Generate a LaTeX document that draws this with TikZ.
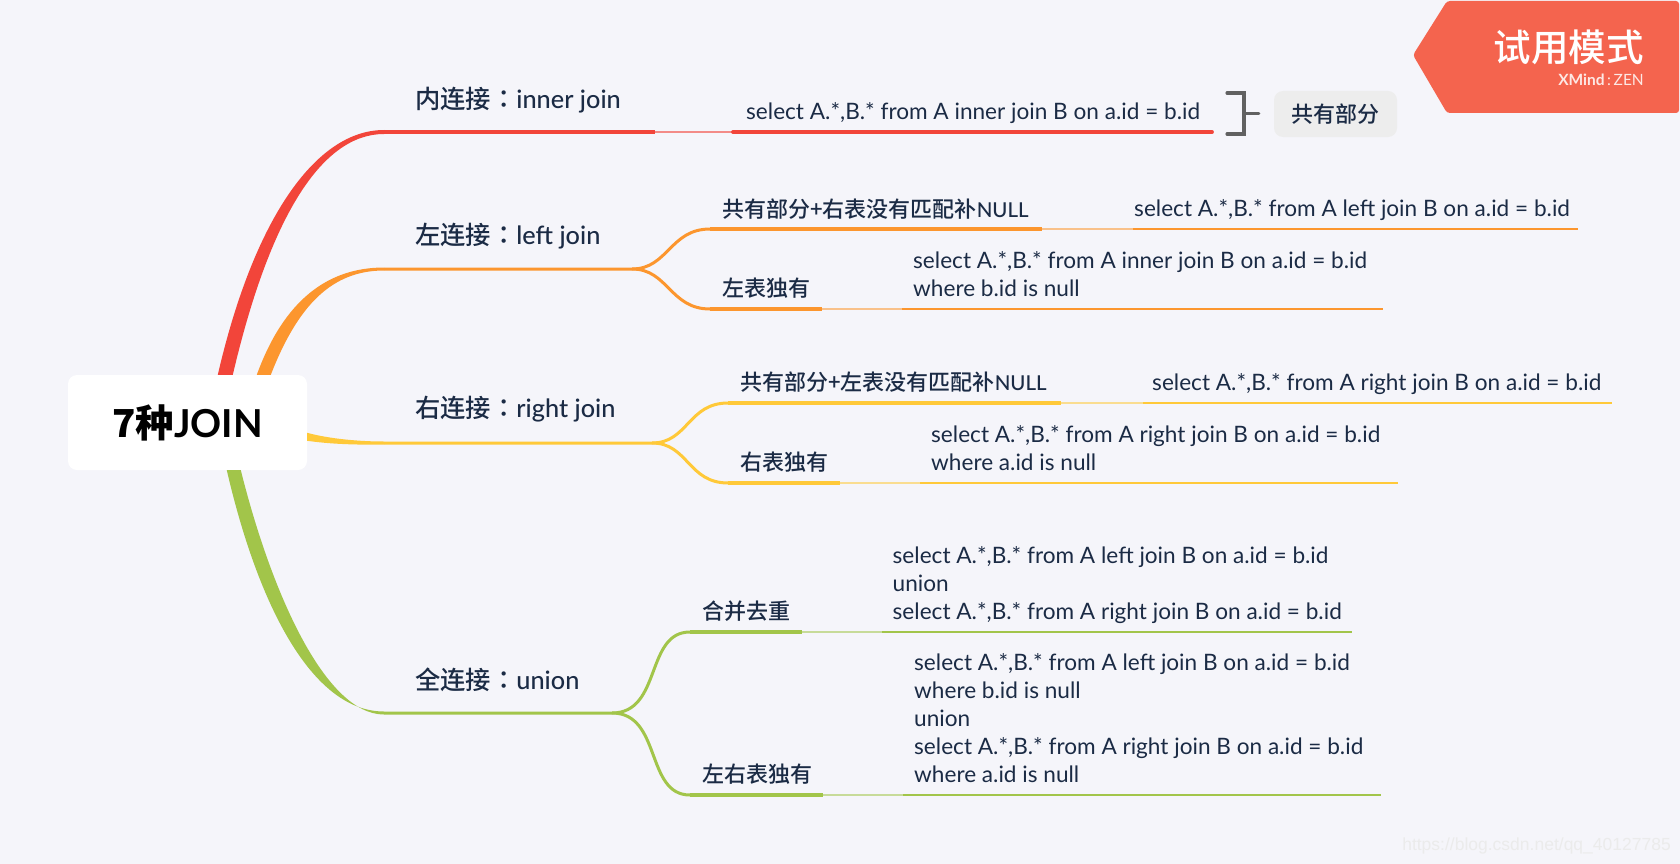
\documentclass[tikz,border=0pt]{standalone}
\usepackage{fontspec}
\usetikzlibrary{calc}
\setmainfont{Lato}
\newfontfamily\latmed{Lato Medium}
\newfontfamily\cjkfont{Noto Sans CJK SC Medium}
\newfontfamily\cjkcol{Noto Sans CJK TC Medium}
\newfontfamily\wmfont{Liberation Sans}
\newcommand{\zh}[1]{{\cjkfont #1}}
\newcommand{\zhcol}{{\cjkcol ：}}
\definecolor{bgc}{HTML}{F5F5FA}
\definecolor{ink}{HTML}{1B2B45}
\definecolor{cred}{HTML}{F2453A}
\definecolor{corg}{HTML}{FC962E}
\definecolor{cyel}{HTML}{FFC939}
\definecolor{cgrn}{HTML}{A2C54A}
\definecolor{tagc}{HTML}{F4644E}
\newcommand{\branch}[6]{%
  \coordinate (#1a) at (#2,#6);\coordinate (#1b) at (#3,#6);
  \coordinate (#1c) at (#4,#6);\coordinate (#1d) at (#5,#6);}
\newcommand{\strokes}[2]{%
  \draw[thickseg,#2] (#1a) -- (#1b);
  \draw[lightseg,#2!55!bgc] (#1b) -- (#1c);
  \draw[thinseg,#2] (#1c) -- (#1d);}
\tikzset{
  x=1pt,y=-1pt,
  thickseg/.style={line width=3.8pt},
  lightseg/.style={line width=2pt},
  thinseg/.style={line width=2.6pt},
  forkline/.style={line width=3pt},
  maintopic/.style={anchor=west,inner sep=0pt,text=ink,font=\fontsize{25.3}{28}\selectfont\latmed},
  subtopic/.style={anchor=west,inner sep=0pt,text=ink,font=\fontsize{22}{28}\selectfont\latmed},
  sql/.style={anchor=west,inner sep=0pt,text=ink,align=left,font=\fontsize{22.6}{28}\selectfont},
}
\begin{document}
\begin{tikzpicture}
\useasboundingbox (0,0) rectangle (1680,864);
\fill[bgc] (0,0) rectangle (1680,864);

% root
\node[fill=white,rounded corners=9pt,minimum width=239pt,minimum height=95pt,inner sep=0pt,
  font=\fontsize{38.5}{42}\selectfont\bfseries] (root) at (187.5,422.5)
  {{\cjkfont 7种}JOIN};

% tapered main branches, starting on the root's edge
\coordinate (rn) at (root.north west);
\coordinate (rs) at (root.south west);
\coordinate (re) at (root.north east);
\branch{m1}{384}{655}{733}{1212}{132}
\branch{m2}{384}{632}{632}{632}{269}
\branch{m3}{384}{652}{652}{652}{443}
\branch{m4}{384}{612}{612}{612}{713}
\fill[cred] ($(rn)+(150,0)$) .. controls (255,214) and (318,130) .. ($(m1a)+(0,-2)$)
  -- ($(m1a)+(0,2)$) .. controls (322,134) and (270,216) .. ($(rn)+(165,0)$) -- cycle;
\fill[corg] ($(rn)+(189,0)$) .. controls (284,300) and (328,267.5) .. ($(m2a)+(0,-1.5)$)
  -- ($(m2a)+(0,1.5)$) .. controls (332,270.5) and (298,305) .. ($(rn)+(203,0)$) -- cycle;
\fill[cyel] ($(re)+(0,58)$) .. controls (330,439) and (360,441.5) .. ($(m3a)+(0,-1.5)$)
  -- ($(m3a)+(0,1.5)$) .. controls (355,445) and (330,444) .. ($(re)+(0,66)$) -- cycle;
\fill[cgrn] ($(rs)+(159,0)$) .. controls (258,605) and (312,711.5) .. ($(m4a)+(0,-1.5)$)
  -- ($(m4a)+(0,1.5)$) .. controls (326,714.5) and (272,595) .. ($(rs)+(173,0)$) -- cycle;

% inner join branch
\draw[thickseg,cred] (m1a) -- (m1b);
\draw[lightseg,cred!60!bgc] (m1b) -- (m1c);
\draw[thickseg,cred,line cap=round] (m1c) -- (m1d);

% left join
\branch{a}{710}{1042}{1133}{1578}{229}
\branch{b}{710}{822}{902}{1383}{309}
\draw[forkline,corg] (m2a) -- (m2b) .. controls (668,269) and (670,229) .. (aa);
\draw[forkline,corg] (m2b) .. controls (668,269) and (670,309) .. (ba);
\strokes{a}{corg}\strokes{b}{corg}

% right join
\branch{c}{728}{1061}{1143}{1612}{403}
\branch{d}{728}{840}{920}{1398}{483}
\draw[forkline,cyel] (m3a) -- (m3b) .. controls (688,443) and (688,403) .. (ca);
\draw[forkline,cyel] (m3b) .. controls (688,443) and (688,483) .. (da);
\strokes{c}{cyel}\strokes{d}{cyel}

% union
\branch{e}{690}{802}{882}{1352}{632}
\branch{f}{690}{823}{903}{1381}{795}
\draw[forkline,cgrn] (m4a) -- (m4b) .. controls (662,713) and (645,632) .. (ea);
\draw[forkline,cgrn] (m4b) .. controls (662,713) and (645,795) .. (fa);
\strokes{e}{cgrn}\strokes{f}{cgrn}

% main topics
\node[maintopic] (t1) at (415,100) {\zh{内连接}\zhcol{}inner join};
\node[maintopic] (t2) at (415,236) {\zh{左连接}\zhcol{}left join};
\node[maintopic] (t3) at (415,409) {\zh{右连接}\zhcol{}right join};
\node[maintopic] (t4) at (415,680) {\zh{全连接}\zhcol{}union};

% sub topics
\node[subtopic] (s1) at (722,209) {\zh{共有部分+右表没有匹配补}{\fontsize{20.5}{28}\selectfont NULL}};
\node[subtopic] (s2) at (722,288) {\zh{左表独有}};
\node[subtopic] (s3) at (740,382) {\zh{共有部分+左表没有匹配补}{\fontsize{20.5}{28}\selectfont NULL}};
\node[subtopic] (s4) at (740,462) {\zh{右表独有}};
\node[subtopic] (s5) at (702,611) {\zh{合并去重}};
\node[subtopic] (s6) at (702,774) {\zh{左右表独有}};

% sql
\node[sql] (q1) at (746,113) {select A.*,B.* from A inner join B on a.id = b.id};
\node[sql] (q2) at (1134,210) {select A.*,B.* from A left join B on a.id = b.id};
\node[sql] (q3) at (913,274) {select A.*,B.* from A inner join B on a.id = b.id\\where b.id is null};
\node[sql] (q4) at (1152,384) {select A.*,B.* from A right join B on a.id = b.id};
\node[sql] (q5) at (931,448) {select A.*,B.* from A right join B on a.id = b.id\\where a.id is null};
\node[sql] (q6) at (892.5,585) {select A.*,B.* from A left join B on a.id = b.id\\union\\select A.*,B.* from A right join B on a.id = b.id};
\node[sql] (q7) at (914,718) {select A.*,B.* from A left join B on a.id = b.id\\where b.id is null\\union\\select A.*,B.* from A right join B on a.id = b.id\\where a.id is null};

% summary bracket and label
\node[fill=black!7,rounded corners=9pt,minimum width=123pt,minimum height=46pt,inner sep=0pt,
  text=ink,font=\fontsize{22}{26}\selectfont] (lab) at (1335.5,114) {\zh{共有部分}};
\coordinate (bt) at (1227,93);
\coordinate (bb) at (1227,134);
\coordinate (bv) at (1244,113.5);
\draw[line width=3.2pt,black!62,line cap=round,line join=miter] (bt) -- (bt -| bv) -- (bb -| bv) -- (bb);
\draw[line width=3.2pt,black!62,line cap=round] (bv) -- ($(lab.west)+(-15,-0.5)$);

% trial tag
\fill[tagc,rounded corners=3pt] (1413,55) -- (1447,1) -- (1679,1) -- (1679,113) -- (1447,113) -- cycle;
\node[anchor=east,inner sep=0pt,text=white,font=\fontsize{37.5}{40}\selectfont] (tag) at (1644,47) {\zh{试用模式}};
\node[anchor=east,inner sep=0pt,text=white!85!tagc,font=\fontsize{15.5}{16}\selectfont] (xm) at (1644,80) {\textbf{XMind}\,:\,ZEN};

% watermark
\node[anchor=east,inner sep=0pt,text=black!8,font=\wmfont\fontsize{17.5}{20}\selectfont] (wm) at (1671,846) {https://blog.csdn.net/qq\_40127785};
\end{tikzpicture}
\end{document}
